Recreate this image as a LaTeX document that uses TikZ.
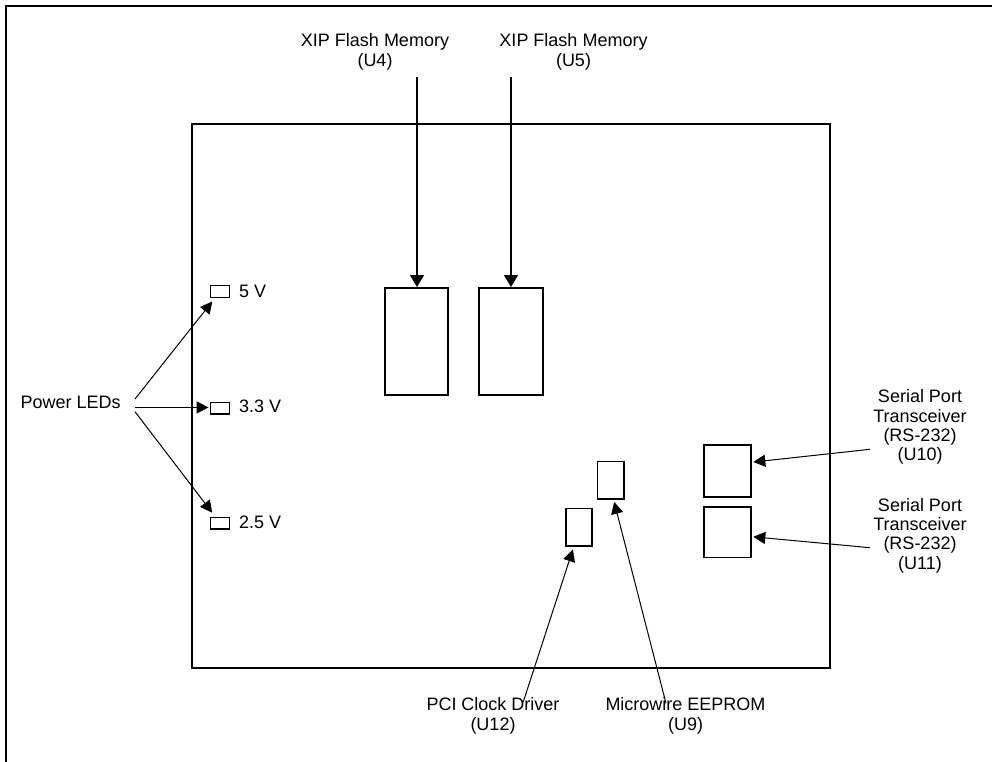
\documentclass[tikz,border=0pt]{standalone}
\usepackage{fontspec}
\setmainfont{Liberation Sans}
\usetikzlibrary{arrows.meta,calc}
\begin{document}
\begin{tikzpicture}[x=1pt,y=-1pt,
  lbl/.style={inner sep=0pt,font=\fontsize{18}{19.3}\selectfont,align=center},
  vlbl/.style={inner sep=0pt,font=\fontsize{18}{19.3}\selectfont},
  chip/.style={draw,line width=1.6pt,inner sep=0pt,anchor=north west},
  arr/.style={line width=1pt,-{Triangle[length=12pt,width=12pt]}},
  farr/.style={line width=1.3pt,-{Triangle[length=12pt,width=14pt]}}]
\useasboundingbox (0,0) rectangle (992,762);
% partial outer frame
\draw[line width=2pt] (6,762) -- (6,5.7) -- (992,5.7);
% board
\node[draw,line width=2pt,inner sep=0pt,minimum width=638pt,minimum height=544pt,anchor=north west] (board) at (191,123) {};
% flash chips
\node[chip,minimum width=63pt,minimum height=107pt] (f4) at (384,287) {};
\node[chip,minimum width=64pt,minimum height=107pt] (f5) at (478,287) {};
% LEDs
\node[chip,line width=1.4pt,minimum width=19pt,minimum height=11.5pt] (led5) at (210,285) {};
\node[chip,line width=1.4pt,minimum width=19pt,minimum height=11.5pt] (led33) at (210,401.7) {};
\node[chip,line width=1.4pt,minimum width=19pt,minimum height=11.5pt] (led25) at (210,516.7) {};
\node[vlbl,anchor=base west] (t5) at (239,297.5) {5 V};
\node[vlbl,anchor=base west] (t33) at (239,412.5) {3.3 V};
\node[vlbl,anchor=base west] (t25) at (239,528.3) {2.5 V};
% small chips
\node[chip,minimum width=26.6pt,minimum height=37.6pt] (u9) at (596.7,460.7) {};
\node[chip,minimum width=26pt,minimum height=37.3pt] (u12) at (565,507.7) {};
\node[chip,minimum width=46.7pt,minimum height=52pt] (u10) at (703.3,444) {};
\node[chip,minimum width=46.7pt,minimum height=50.7pt] (u11) at (703.3,506) {};
% labels
\node[lbl,anchor=north] (l4) at (375,33.5) {XIP Flash Memory\\(U4)};
\node[lbl,anchor=north] (l5) at (573.5,33.5) {XIP Flash Memory\\(U5)};
\node[vlbl,anchor=base west] (pl) at (20.5,408) {Power LEDs};
\node[lbl,anchor=north] (l10) at (920,389.7) {Serial Port\\Transceiver\\(RS-232)\\(U10)};
\node[lbl,anchor=north] (l11) at (920,498) {Serial Port\\Transceiver\\(RS-232)\\(U11)};
\node[lbl,anchor=north] (l12) at (493,697.7) {PCI Clock Driver\\(U12)};
\node[lbl,anchor=north] (l9) at (685.5,697.7) {Microwire EEPROM\\(U9)};
% connector ends
\coordinate (c4) at (417,77.3);
\coordinate (c5) at (511,77.3);
\coordinate (p5) at (135,399);
\coordinate (p33) at (135,407.45);
\coordinate (p25) at (135,411.7);
\coordinate (c10) at (870,449.3);
\coordinate (c11) at (870,547.7);
\coordinate (c12) at (523.3,701.7);
\coordinate (c9) at (666,703.3);
% connectors
\draw[farr] (c4) -- (c4 |- f4.north);
\draw[farr] (c5) -- (c5 |- f5.north);
\draw[arr,shorten >=4.5pt] (p5) -- (led5);
\draw[arr,line width=1.5pt,shorten >=1.5pt] (p33) -- (p33 -| led33.west);
\draw[arr,shorten >=5pt] (p25) -- (led25);
\draw[arr,shorten >=1.7pt] (c10) -- ($(u10.north east)!0.34!(u10.south east)$);
\draw[arr,shorten >=1.7pt] (c11) -- ($(u11.north east)!0.586!(u11.south east)$);
\draw[arr,shorten >=3pt] (c12) -- ($(u12.south west)!0.32!(u12.south east)$);
\draw[arr,shorten >=2pt] (c9) -- ($(u9.south west)!0.6!(u9.south east)$);
\end{tikzpicture}
\end{document}
